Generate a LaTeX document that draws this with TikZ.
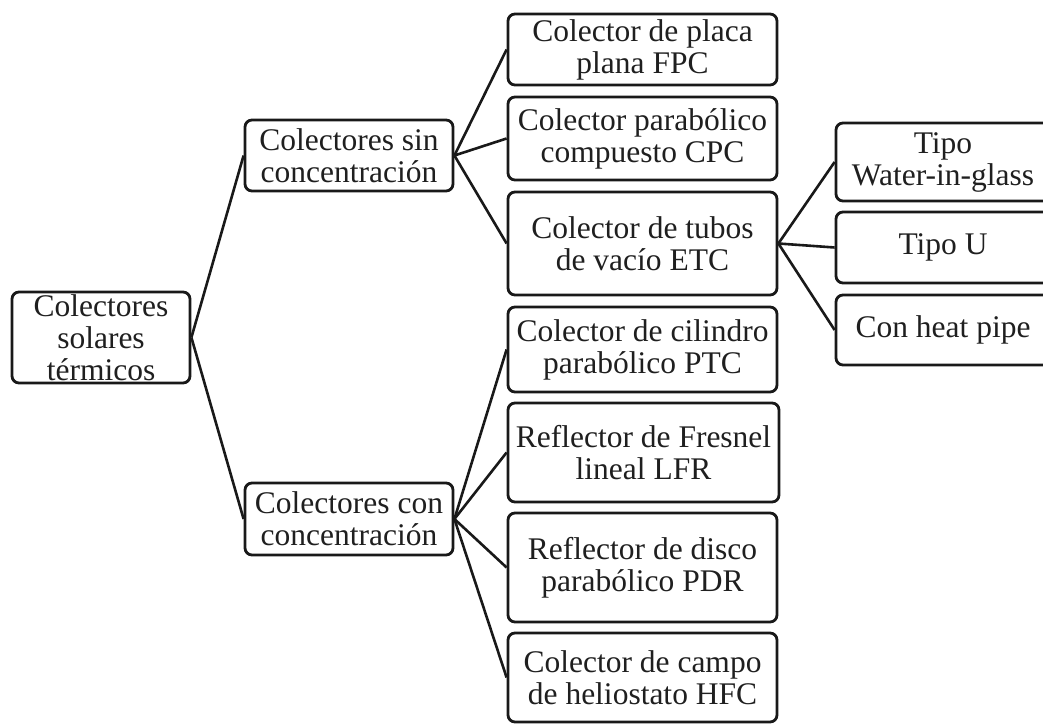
\documentclass[tikz,border=0pt]{standalone}
\usepackage{fontspec}
\setmainfont{Liberation Serif}
\begin{document}
\begin{tikzpicture}[x=1pt,y=-1pt,
  box/.style={draw=black!90, line width=2.8pt, rounded corners=7pt, inner sep=0pt,
    align=center, text=black!88, font=\fontsize{31.5}{32}\selectfont},
  link/.style={draw=black!90, line width=2.6pt}]
\useasboundingbox (0,0) rectangle (1043,727);
\clip (0,0) rectangle (1043,727);

% root
\node[box, minimum width=178pt, minimum height=91pt] (root) at (101,337.5)
  {Colectores\\solares\\térmicos};

% second level
\node[box, minimum width=208pt, minimum height=71pt] (sin) at (349,155.5)
  {Colectores sin\\concentración};
\node[box, minimum width=208pt, minimum height=72pt] (con) at (349,519)
  {Colectores con\\concentración};

% third level
\node[box, minimum width=269pt, minimum height=71pt] (fpc) at (642.5,49.5)
  {Colector de placa\\plana FPC};
\node[box, minimum width=269pt, minimum height=83pt] (cpc) at (642.5,138.5)
  {Colector parabólico\\compuesto CPC};
\node[box, minimum width=269pt, minimum height=103pt] (etc) at (642.5,243.5)
  {Colector de tubos\\de vacío ETC};
\node[box, minimum width=269pt, minimum height=85pt] (ptc) at (642.5,349.5)
  {Colector de cilindro\\parabólico PTC};
\node[box, minimum width=271pt, minimum height=99pt] (lfr) at (643.5,452.5)
  {Reflector de Fresnel\\lineal LFR};
\node[box, minimum width=269pt, minimum height=109pt] (pdr) at (642.5,567.5)
  {Reflector de disco\\parabólico PDR};
\node[box, minimum width=269pt, minimum height=89pt] (hfc) at (642.5,677.5)
  {Colector de campo\\de heliostato HFC};

% fourth level
\node[box, minimum width=214pt, minimum height=78pt] (wig) at (943,162)
  {Tipo\\Water-in-glass};
\node[box, minimum width=214pt, minimum height=71pt] (tu) at (943,247.5)
  {Tipo U};
\node[box, minimum width=214pt, minimum height=70pt] (hp) at (943,330)
  {Con heat pipe};

% connectors
\draw[link] (root.east) -- (sin.west);
\draw[link] (root.east) -- (con.west);
\draw[link] (sin.east) -- (fpc.west);
\draw[link] (sin.east) -- (cpc.west);
\draw[link] (sin.east) -- (etc.west);
\draw[link] (con.east) -- (ptc.west);
\draw[link] (con.east) -- (lfr.west);
\draw[link] (con.east) -- (pdr.west);
\draw[link] (con.east) -- (hfc.west);
\draw[link] (etc.east) -- (wig.west);
\draw[link] (etc.east) -- (tu.west);
\draw[link] (etc.east) -- (hp.west);
\end{tikzpicture}
\end{document}
